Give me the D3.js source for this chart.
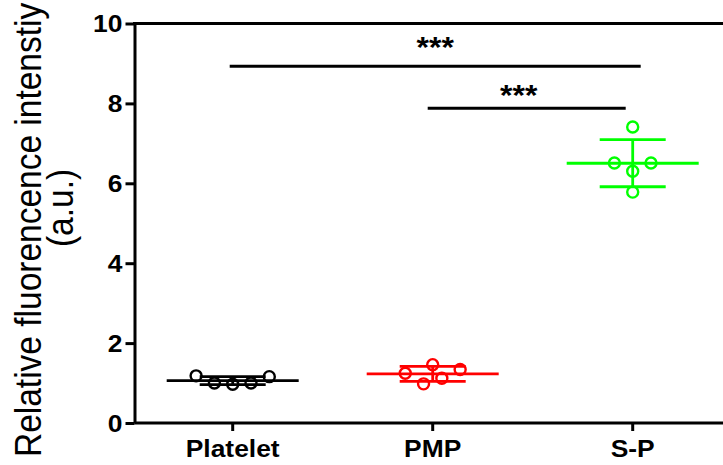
<!DOCTYPE html>
<html>
<head>
<meta charset="utf-8">
<script src="https://cdn.jsdelivr.net/npm/d3@7"></script>
<style>
  html, body { margin: 0; padding: 0; background: #fff; }
  svg { display: block; }
  text { font-family: "Liberation Sans", Arial, sans-serif; }
</style>
</head>
<body>
<svg id="chart" width="723" height="465"></svg>
<script>
// ---------------- data ----------------
const categories = ["Platelet", "PMP", "S-P"];
const plateletValues = [1.18, 1.00, 0.97, 1.00, 1.16];
const pmpValues = [1.245, 1.46, 0.98, 1.12, 1.34];
const spValues = [7.41, 6.51, 6.30, 6.51, 5.78];
const seriesColors = ["#000000", "#ff0000", "#00ff00"];
const yTicks = [0, 2, 4, 6, 8, 10];
const comparisonFrom = ["Platelet", "PMP"];
const comparisonTo = ["S-P", "S-P"];
const comparisonBarY = [8.93, 7.88];
const comparisonLabelY = [9.17, 7.97];
const comparisonLabels = ["***", "***"];
const yTitleLines = ["Relative fluorencence intenstiy", "(a.u.)"];

// ---------------- layout ----------------
const W = 723, H = 465;
const axisX = 134.5;
const stretch = 1.1;            // horizontal stretch of the original figure
const dotSpacing = 18.3;
const binSize = 0.4, binOffset = 0.15;
const meanHalf = 66, capHalf = 33;
const barNudge = [[-3, 8], [-5, -7]];
const labelNudge = [0, -8];

const groups = categories.map((c, i) => ({
  name: c,
  values: [plateletValues, pmpValues, spValues][i],
  color: seriesColors[i]
}));

const svg = d3.select("#chart");

const y = d3.scaleLinear().domain([0, 10]).range([423, 23.5]);
const x = d3.scaleBand().domain(categories).range([132.7, 732.7]);
const cx = c => x(c) + x.bandwidth() / 2;

// ---------------- axes ----------------
const yAxis = d3.axisLeft(y).tickValues(yTicks).tickFormat(d3.format("d"))
  .tickSize(9).tickSizeOuter(0).tickPadding(2);
const gy = svg.append("g").attr("transform", `translate(${axisX},0)`).call(yAxis);
gy.select(".domain").attr("stroke", "#000").attr("stroke-width", 3);
gy.selectAll(".tick line").attr("stroke", "#000").attr("stroke-width", 3);
gy.selectAll(".tick text")
  .attr("x", -11).attr("dy", "0.35em")
  .attr("transform", `scale(${stretch},1)`)
  .attr("font-size", 24).attr("font-weight", "bold").attr("fill", "#000")
  .attr("font-family", "'Liberation Sans', Arial, sans-serif");

const xAxis = d3.axisBottom(x).tickSize(8).tickSizeOuter(0);
const gx = svg.append("g").attr("transform", `translate(0,${y(0)})`).call(xAxis);
gx.select(".domain").remove();
gx.append("line").attr("x1", axisX).attr("x2", W + 10).attr("y1", 0).attr("y2", 0)
  .attr("stroke", "#000").attr("stroke-width", 3);
gx.selectAll(".tick line").attr("stroke", "#000").attr("stroke-width", 3);
gx.selectAll(".tick text")
  .attr("y", 34).attr("dy", 0)
  .attr("transform", `scale(${stretch},1)`)
  .attr("font-size", 24).attr("font-weight", "bold").attr("fill", "#000")
  .attr("font-family", "'Liberation Sans', Arial, sans-serif");

// top frame line at y = 10
svg.append("line").attr("x1", axisX - 1.5).attr("x2", W + 10)
  .attr("y1", y(10)).attr("y2", y(10))
  .attr("stroke", "#000").attr("stroke-width", 3);

// ---------------- y title ----------------
svg.append("text")
  .attr("transform", `translate(41,457) scale(${stretch},1) rotate(-90)`)
  .attr("text-anchor", "start")
  .attr("font-size", 33.5).attr("fill", "#000")
  .text(yTitleLines[0]);
svg.append("text")
  .attr("transform", `translate(73,208) scale(${stretch},1) rotate(-90)`)
  .attr("text-anchor", "middle")
  .attr("font-size", 33.5).attr("fill", "#000")
  .text(yTitleLines[1]);

// ---------------- groups: mean, SD, points ----------------
groups.forEach(g => {
  const c = cx(g.name);
  const m = d3.mean(g.values);
  const sd = d3.deviation(g.values);
  const gg = svg.append("g").attr("stroke", g.color).attr("stroke-width", 2.8).attr("fill", "none");
  gg.append("line").attr("x1", c).attr("x2", c).attr("y1", y(m + sd)).attr("y2", y(m - sd));
  [m + sd, m - sd].forEach(v => {
    gg.append("line").attr("x1", c - capHalf).attr("x2", c + capHalf).attr("y1", y(v)).attr("y2", y(v));
  });
  gg.append("line").attr("x1", c - meanHalf).attr("x2", c + meanHalf).attr("y1", y(m)).attr("y2", y(m));

  // swarm layout: points binned into rows, spread symmetrically in data order
  const bins = d3.group(g.values.map((v, i) => ({ v, i })), d => Math.floor((d.v - binOffset) / binSize));
  const pts = [];
  bins.forEach(arr => {
    arr.forEach((d, k) => pts.push({ v: d.v, dx: (k - (arr.length - 1) / 2) * dotSpacing }));
  });
  svg.append("g").selectAll("circle").data(pts).join("circle")
    .attr("cx", d => c + d.dx).attr("cy", d => y(d.v)).attr("r", 5.5)
    .attr("fill", "none").attr("stroke", g.color).attr("stroke-width", 2.4);
});

// ---------------- significance bars ----------------
comparisonFrom.forEach((f, i) => {
  const x1 = cx(f) + barNudge[i][0];
  const x2 = cx(comparisonTo[i]) + barNudge[i][1];
  svg.append("line").attr("x1", x1).attr("x2", x2)
    .attr("y1", y(comparisonBarY[i])).attr("y2", y(comparisonBarY[i]))
    .attr("stroke", "#000").attr("stroke-width", 3);
  svg.append("text")
    .attr("transform", `translate(${(x1 + x2) / 2 + labelNudge[i]},${y(comparisonLabelY[i])}) scale(${stretch},1)`)
    .attr("text-anchor", "middle")
    .attr("font-size", 29).attr("font-weight", "bold").attr("fill", "#000")
    .text(comparisonLabels[i]);
});
</script>
</body>
</html>
